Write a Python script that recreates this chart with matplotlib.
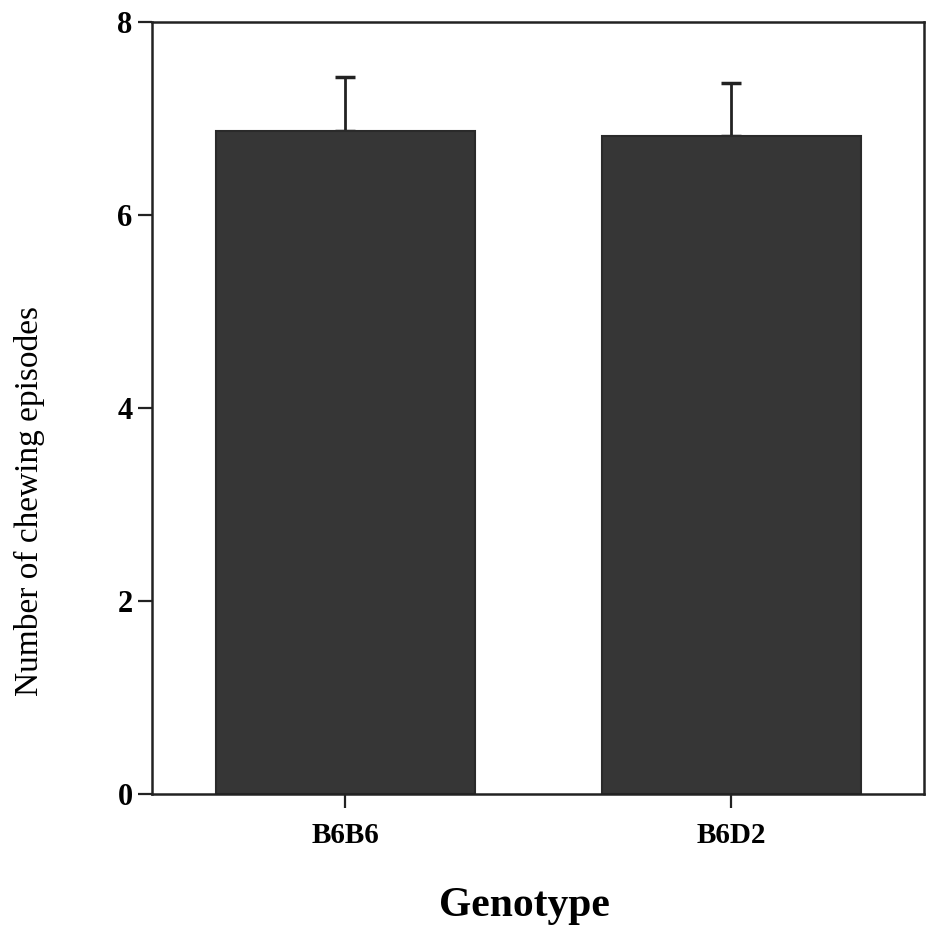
import matplotlib.pyplot as plt
import numpy as np

# chewing episodes per genotype (mean + upper SEM)
genotypes = ["B6B6", "B6D2"]
means = [6.87, 6.82]
errors = [0.56, 0.55]
yticks = [0, 2, 4, 6, 8]

plt.rcParams['font.family'] = ['Liberation Serif', 'DejaVu Serif']

fig = plt.figure(figsize=(9.28, 9.43), dpi=100)
ax = fig.add_axes([0.164, 0.158, 0.832, 0.819])

x = np.arange(len(genotypes))
# error first, bars on top hide the lower half
ax.errorbar(x, means, yerr=[np.zeros(len(errors)), errors], fmt='none',
            ecolor='#222222', elinewidth=2, capsize=7, capthick=2.5, zorder=1)
ax.bar(x, means, width=0.67, color='#363636', edgecolor='#2a2a2a',
       linewidth=1.5, zorder=2)

ax.set_xlim(-0.5, 1.5)
ax.set_ylim(0, 8)
ax.set_yticks(yticks)
ax.set_xticks(x)
ax.set_xticklabels(genotypes, fontsize=21, fontweight='bold')
for lab in ax.get_yticklabels():
    lab.set_fontsize(22)
    lab.set_fontweight('bold')

for s in ax.spines.values():
    s.set_linewidth(1.8)
    s.set_color('#222222')
ax.tick_params(axis='both', direction='out', length=10, width=1.6, color='#222222')
ax.tick_params(axis='x', pad=10)
ax.tick_params(axis='y', pad=4)

ax.set_ylabel("Number of chewing episodes", fontsize=24)
ax.yaxis.set_label_coords(-0.139, 0.38)
ax.set_xlabel("Genotype", fontsize=30, fontweight='bold')
ax.xaxis.set_label_coords(0.482, -0.12)

fig.savefig("out.png", dpi=100)
